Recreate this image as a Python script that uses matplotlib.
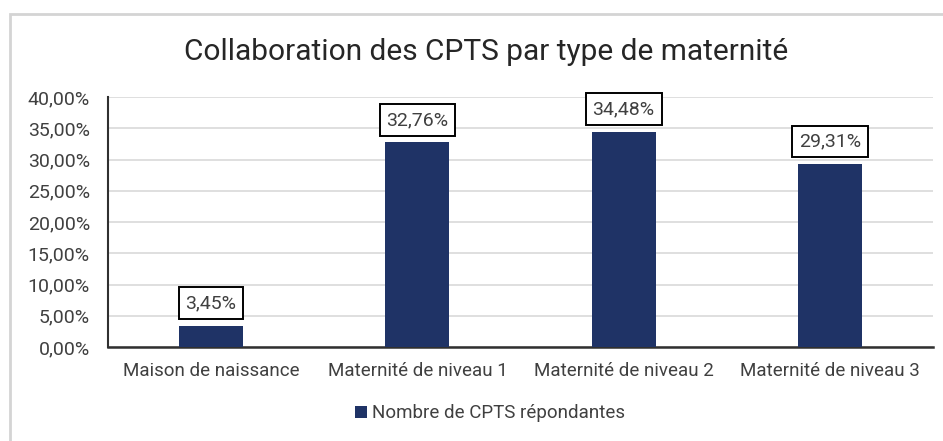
import matplotlib.pyplot as plt
from matplotlib.patches import Rectangle
from matplotlib.ticker import FuncFormatter

plt.rcParams['font.family'] = ['Roboto', 'DejaVu Sans']

# Data
categories = ["Maison de naissance", "Maternité de niveau 1",
              "Maternité de niveau 2", "Maternité de niveau 3"]
values = [3.45, 32.76, 34.48, 29.31]
series_name = "Nombre de CPTS répondantes"
title = "Collaboration des CPTS par type de maternité"

bar_color = "#1F3366"

fig = plt.figure(figsize=(9.43, 4.41), dpi=100)
ax = fig.add_axes([0.1145, 0.213, 0.875, 0.567])

x = range(len(categories))
ax.bar(x, values, width=0.31, color=bar_color, label=series_name, zorder=3)

# Data labels in boxes
for xi, v in zip(x, values):
    ax.annotate(f"{v:.2f}%".replace(".", ","), (xi, v),
                xytext=(0, 16), textcoords="offset points",
                ha="center", va="center", fontsize=14, color="#404040",
                bbox=dict(boxstyle="square,pad=0.35", fc="white", ec="black", lw=1.4),
                zorder=4)

ax.set_xlim(-0.5, 3.5)
ax.set_ylim(0, 40)
ax.set_yticks(range(0, 41, 5))
ax.yaxis.set_major_formatter(FuncFormatter(lambda v, p: f"{v:.2f}%".replace(".", ",")))
ax.set_xticks(list(x))
ax.set_xticklabels(categories)
ax.tick_params(axis="both", length=0, labelsize=13.5, labelcolor="#404040")
ax.tick_params(axis="y", labelsize=14, pad=13)
ax.tick_params(axis="x", pad=11)

ax.grid(axis="y", color="#D9D9D9", lw=1.2, zorder=0)
for side in ["top", "right"]:
    ax.spines[side].set_visible(False)
ax.spines["left"].set_color("#303030")
ax.spines["left"].set_linewidth(1.5)
ax.spines["bottom"].set_color("#303030")
ax.spines["bottom"].set_linewidth(1.8)

fig.text(0.515, 0.882, title, ha="center", va="center", fontsize=21.5, color="#262626")

fig.legend(loc="center", bbox_to_anchor=(0.52, 0.063), frameon=False,
           fontsize=13.5, handlelength=0.6, handleheight=0.6, handletextpad=0.3,
           labelcolor="#404040")

# Outer chart frame
fig.patches.append(Rectangle((10 / 943, -0.1), 1.2, 1.1 - 14 / 441,
                             transform=fig.transFigure, fill=False,
                             ec="#D4D4D4", lw=2))

fig.savefig("out.png", dpi=100)
